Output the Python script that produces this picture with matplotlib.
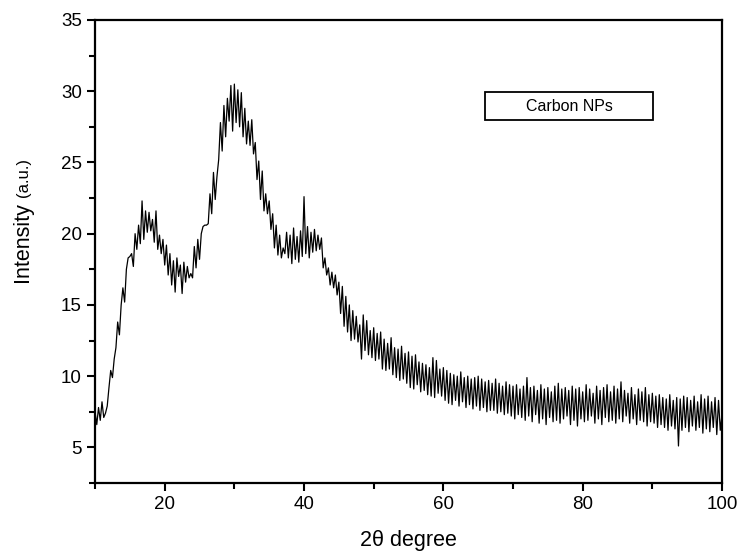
import matplotlib
matplotlib.use("Agg")
import matplotlib.pyplot as plt
from matplotlib.patches import Rectangle
from matplotlib.ticker import MultipleLocator
import numpy as np

plt.rcParams['font.family'] = ['Liberation Sans', 'DejaVu Sans']

# XRD scan, 2theta from 10 to 100 deg in 0.25 deg steps
intensity = [
    7.5, 6.6, 7.8, 6.9, 8.2, 7.1, 7.4, 7.9, 9.2, 10.4, 9.9, 11.2, 12.0, 13.8, 12.9, 15.0, 16.2, 15.2, 17.5, 18.3,
    18.4, 18.6, 17.7, 20.0, 18.9, 20.6, 19.3, 22.3, 19.6, 21.6, 20.1, 21.5, 20.2, 21.0, 19.4, 21.6, 18.9, 19.9, 18.6, 19.6,
    17.8, 19.2, 17.1, 18.6, 16.4, 18.1, 15.9, 18.3, 17.0, 17.8, 15.8, 18.0, 16.6, 17.7, 16.9, 17.2, 16.9, 19.1, 17.6, 19.6,
    18.2, 20.0, 20.5, 20.6, 20.6, 20.7, 22.8, 21.4, 24.3, 22.4, 24.0, 25.2, 27.8, 25.8, 29.0, 26.8, 29.5, 27.9, 30.4, 27.2,
    30.5, 27.8, 30.1, 27.5, 29.9, 26.8, 28.8, 26.3, 27.9, 26.2, 28.0, 25.6, 26.4, 23.8, 25.1, 22.4, 24.4, 21.6, 22.8, 21.4,
    22.3, 20.3, 21.4, 19.0, 20.6, 18.5, 19.9, 18.3, 19.0, 18.6, 20.1, 18.3, 19.9, 17.9, 20.4, 18.2, 19.8, 18.0, 20.2, 18.4,
    22.6, 18.6, 20.5, 18.3, 20.1, 18.7, 20.3, 18.8, 19.9, 18.9, 19.7, 17.6, 18.3, 17.1, 17.6, 16.4, 17.3, 16.2, 17.1, 15.7,
    16.6, 14.4, 16.3, 13.5, 15.6, 13.1, 15.0, 12.5, 14.6, 12.6, 14.2, 12.4, 13.6, 11.2, 14.3, 11.8, 13.9, 11.5, 13.2, 11.3,
    13.4, 11.1, 13.0, 11.2, 13.1, 10.5, 12.6, 10.4, 12.3, 10.5, 12.7, 10.1, 12.0, 9.9, 11.9, 9.7, 12.1, 9.8, 11.6, 9.5,
    11.7, 9.2, 11.4, 9.1, 11.5, 9.4, 11.0, 8.9, 10.9, 9.0, 10.8, 8.7, 10.6, 8.6, 11.3, 8.5, 11.1, 8.8, 10.5, 8.6,
    10.6, 8.3, 10.4, 8.1, 10.2, 8.0, 10.1, 8.3, 10.0, 7.9, 10.3, 8.2, 9.9, 7.8, 10.0, 8.0, 9.8, 7.7, 9.9, 7.9,
    10.0, 7.6, 9.8, 7.8, 9.6, 7.5, 9.7, 7.6, 9.5, 7.6, 9.8, 7.4, 9.5, 7.5, 9.3, 7.3, 9.6, 7.4, 9.4, 7.2,
    9.3, 7.0, 9.4, 7.3, 9.1, 7.1, 9.3, 6.9, 9.9, 7.2, 9.2, 6.8, 9.3, 7.3, 9.0, 6.7, 9.4, 7.0, 9.1, 6.6,
    9.2, 7.1, 8.9, 6.8, 9.3, 6.9, 9.5, 6.7, 9.1, 7.0, 9.2, 7.2, 9.0, 6.6, 9.3, 6.9, 9.1, 6.5, 9.2, 7.0,
    8.9, 6.8, 9.4, 6.9, 9.1, 7.2, 8.8, 6.7, 9.3, 7.0, 9.0, 6.6, 9.2, 7.1, 9.4, 6.8, 8.9, 6.9, 9.3, 6.7,
    9.1, 7.0, 9.6, 6.8, 9.0, 7.2, 8.8, 6.7, 9.2, 7.0, 8.7, 6.6, 9.1, 6.9, 8.9, 6.8, 9.2, 6.5, 8.7, 6.8,
    8.8, 6.7, 8.6, 6.4, 8.7, 6.6, 8.5, 6.4, 8.4, 6.2, 8.7, 6.5, 8.3, 6.3, 8.5, 5.1, 8.4, 6.2, 8.6, 6.4,
    8.5, 6.1, 8.3, 6.5, 8.6, 6.2, 8.2, 6.4, 8.7, 6.0, 8.4, 6.3, 8.6, 6.1, 8.2, 6.4, 8.5, 5.9, 8.3, 6.2,
    7.3,
]
two_theta = np.linspace(10, 100, len(intensity))

fig = plt.figure(figsize=(7.39, 5.55), dpi=100)
ax = fig.add_axes([0.1286, 0.1297, 0.8484, 0.8343])

ax.plot(two_theta, intensity, color='black', linewidth=0.9)

ax.set_xlim(10, 100)
ax.set_ylim(2.5, 35)
ax.xaxis.set_major_locator(MultipleLocator(20))
ax.xaxis.set_minor_locator(MultipleLocator(10))
ax.yaxis.set_major_locator(MultipleLocator(5))
ax.yaxis.set_minor_locator(MultipleLocator(2.5))
ax.set_xticks([20, 40, 60, 80, 100])
ax.tick_params(which='both', direction='out', width=1.5, labelsize=13.5)
ax.tick_params(which='major', length=6)
ax.tick_params(which='minor', length=4)
for s in ax.spines.values():
    s.set_linewidth(1.6)

# axis labels
ax.set_xlabel('2θ degree', fontsize=15.5, labelpad=12)
fig.text(0.030, 0.492, 'Intensity', rotation=90, fontsize=15.5, ha='center', va='bottom')
fig.text(0.032, 0.645, '(a.u.)', rotation=90, fontsize=12, ha='center', va='bottom')

# legend box
ax.add_patch(Rectangle((0.622, 0.784), 0.268, 0.0605, transform=ax.transAxes,
                       fill=False, edgecolor='black', linewidth=1.3))
ax.text(0.756, 0.814, 'Carbon NPs', transform=ax.transAxes, fontsize=11.5,
        ha='center', va='center')

fig.savefig('out.png', dpi=100)
